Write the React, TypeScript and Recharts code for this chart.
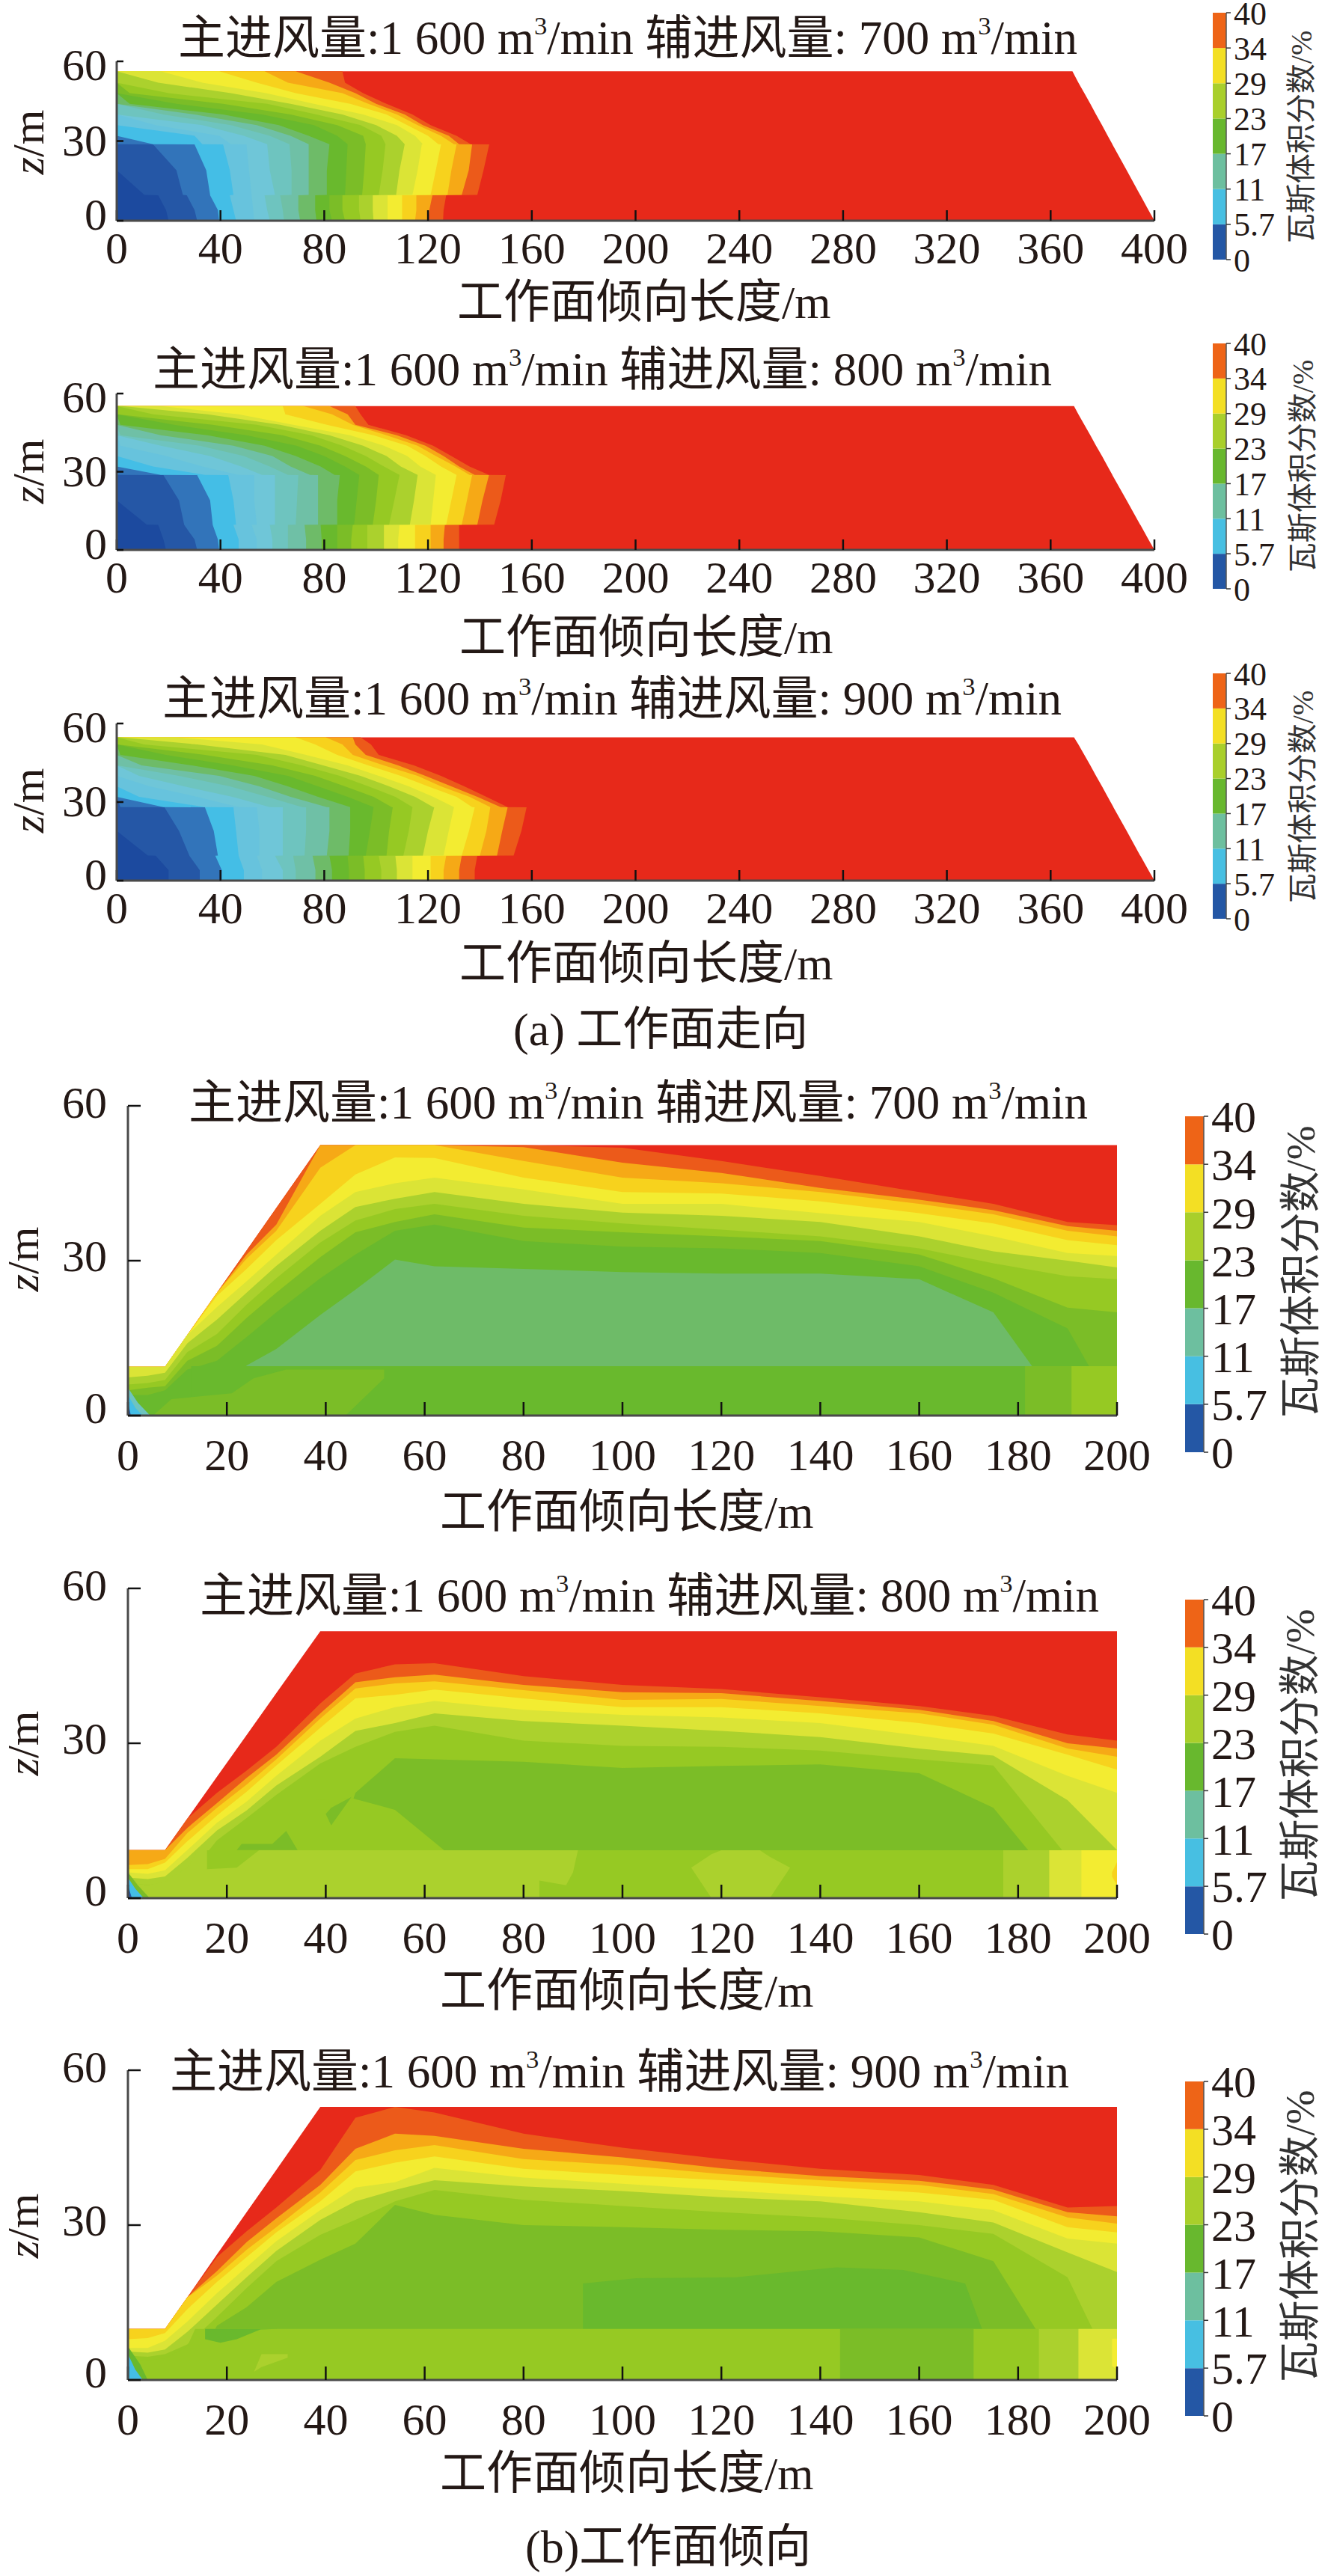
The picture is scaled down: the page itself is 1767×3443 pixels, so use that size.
import { Area, Bar, BarChart, ComposedChart, XAxis, YAxis } from 'recharts';

const FONT = '"Liberation Serif", "Noto Sans CJK SC", serif';
const INK = '#231815';

// contour bands, lowest first, the last one sits just under the red background
const bandColors = [
  '#1c4a9f', '#2557a6', '#3274ba', '#44bee6', '#67c3dd', '#6fc6d8', '#6ec4bf', '#6fc0a6', '#6ebb68',
  '#69b92d', '#7bbd27', '#96c923', '#abd12d', '#dbe436', '#f3ec31', '#f7d21d', '#f6a916', '#ec5a1a',
];
const RED = '#e7291a';

const barLabels = ['0', '5.7', '11', '17', '23', '29', '34', '40'];
const barColors = ['#2457a5', '#47bfe2', '#6dbf9f', '#68b82e', '#a9cf2b', '#f3df24', '#ee6417'];

const xTicksA = [0, 40, 80, 120, 160, 200, 240, 280, 320, 360, 400];
const xTicksB = [0, 20, 40, 60, 80, 100, 120, 140, 160, 180, 200];
const zTicks = [0, 30, 60];

// (a) strike panels: x of each contour, read at these heights
const zRowsA1 = [0, 4, 9.6, 9.7, 19, 28.7, 28.8, 32, 36, 40, 44, 48, 52, 56.3];
const edgeA1 = [400, 397.7, 394.6, 394.5, 389.3, 383.8, 383.8, 382, 379.8, 377.5, 375.3, 373, 370.7, 368.4];
const contoursA1 = [
  [20, 19, 16, 10.7, 0, 0, 0, 0, 0, 0, 0, 0, 0, 0],
  [31, 30, 27, 25.5, 23, 14, 0, 0, 0, 0, 0, 0, 0, 0],
  [39.5, 39, 36, 36, 34.5, 30, 14, 0, 0, 0, 0, 0, 0, 0],
  [46, 45, 43.6, 45, 43.6, 41, 33, 30, 0, 0, 0, 0, 0, 0],
  [53, 52.6, 52, 52, 51, 50, 44, 39.5, 15, 0, 0, 0, 0, 0],
  [59, 58, 57, 61, 59, 58, 58, 49, 33, 0, 0, 0, 0, 0],
  [64.5, 64, 63, 67.4, 67.4, 66.6, 66.6, 59, 44, 18, 0, 0, 0, 0],
  [70.7, 70, 70, 74, 74, 74, 74, 67, 54, 30, 0, 0, 0, 0],
  [77, 76.5, 76.5, 81, 81, 82, 82, 74, 62.5, 41, 5, 0, 0, 0],
  [83, 82, 82, 88, 88.5, 89, 89, 85, 76, 56, 23, 0, 0, 0],
  [88, 87, 87, 94.6, 95.4, 96, 96, 95, 85, 67, 41, 5, 0, 0],
  [94, 93.4, 93.4, 101, 102.5, 103.6, 103.6, 102, 94, 77, 58, 20, 0, 0],
  [99, 98.7, 98.7, 107.7, 109, 111, 111, 108, 100, 87, 67, 44, 16, 0],
  [104.4, 104.4, 104.4, 114, 116, 117.6, 118, 115, 108, 95, 76, 57.6, 33, 17],
  [110, 110, 110, 121, 123, 125, 124, 120, 112, 104, 90, 69, 54, 39.5],
  [115, 115.5, 115.5, 127.5, 129, 131, 130, 125, 116, 108, 97, 87, 66, 57],
  [120, 120.5, 121.7, 133, 135.7, 137, 132, 128, 118, 111, 100, 92, 82, 69],
  [125.8, 126, 127, 139, 141.4, 143.6, 136.5, 131, 121, 114, 104, 95, 88, 87],
];

const zRowsA2 = [0, 4, 9.6, 9.7, 19, 28.7, 28.8, 32, 36, 40, 44, 48, 52, 55.2];
const edgeA2 = [400, 397.7, 394.6, 394.5, 389.3, 383.8, 383.8, 382, 379.8, 377.5, 375.3, 373, 370.7, 369];
const contoursA2 = [
  [19, 18, 16, 11.6, 0, 0, 0, 0, 0, 0, 0, 0, 0, 0],
  [31, 30, 26, 26, 24, 18, 0, 0, 0, 0, 0, 0, 0, 0],
  [39.5, 39, 37, 37, 36, 31, 17, 0, 0, 0, 0, 0, 0, 0],
  [47, 47, 45, 46, 45, 43, 34, 14, 0, 0, 0, 0, 0, 0],
  [54, 54, 52, 54, 53, 53, 47, 33, 19, 1.4, 0, 0, 0, 0],
  [60, 60, 59, 61, 61, 61, 56, 48, 36, 17, 0, 0, 0, 0],
  [66, 66, 66, 69, 69.5, 70, 66, 59, 49, 32, 1.4, 0, 0, 0],
  [73, 73, 72.4, 77.6, 77.6, 77.6, 74.5, 67, 60, 45, 17, 0, 0, 0],
  [79, 79, 78.6, 85, 85, 86, 84, 78.6, 69, 57, 35, 1.4, 0, 0],
  [85, 85, 85, 91.5, 92.5, 93.5, 93.5, 88, 80, 69.3, 50, 22, 0, 0],
  [90.4, 90.4, 91, 98.7, 100, 101, 101, 96, 88, 78.6, 64, 37, 0.3, 0],
  [96.6, 96.6, 96.6, 105, 107, 109, 109, 103, 96, 87, 75, 54, 14, 0],
  [103, 103, 103, 113, 114.6, 116, 116, 109.5, 104, 95, 82, 63, 35, 2],
  [108.5, 108.5, 109, 121, 122, 123, 123, 117, 112, 103, 90, 68, 47, 17],
  [115, 115, 115, 127, 129, 131, 131, 125, 119, 112, 99, 81, 65, 64],
  [121, 121, 121, 133, 135, 137, 136, 130.6, 123, 116, 104, 91, 83, 72],
  [126, 126, 126.5, 139, 141, 143.5, 138, 132, 126, 119, 108, 92, 89, 82],
  [132, 132, 132, 145.5, 148, 150, 143.5, 136, 129, 122, 111.6, 97, 94, 92],
];

const zRowsA3 = [0, 4, 9.5, 9.6, 19, 28, 28.1, 32, 36, 40, 44, 48, 52, 54.7];
const edgeA3 = [400, 397.7, 394.6, 394.5, 389.3, 384.2, 384.2, 382, 379.8, 377.5, 375.3, 373, 370.7, 369];
const contoursA3 = [
  [20, 20, 15, 12, 0, 0, 0, 0, 0, 0, 0, 0, 0, 0],
  [32, 32, 28, 28, 24, 18.4, 1.4, 0, 0, 0, 0, 0, 0, 0],
  [40.5, 40.5, 38, 39, 37.4, 34, 18, 0, 0, 0, 0, 0, 0, 0],
  [49, 49, 47, 47, 46, 45, 34, 8.6, 0, 0, 0, 0, 0, 0],
  [56, 56, 54, 55, 55, 54, 47, 31, 12.7, 0, 0, 0, 0, 0],
  [64, 64, 61, 64, 64, 64, 59, 44.6, 26, 8.6, 0, 0, 0, 0],
  [69, 69, 68, 72.4, 73, 73, 71.4, 58, 43.6, 24, 0.3, 0, 0, 0],
  [76.6, 76.6, 75.5, 81, 82, 82, 81, 67, 55, 39.5, 9.6, 0, 0, 0],
  [83, 83, 82, 89.4, 90, 90, 90, 77.6, 66, 53, 29, 1.4, 0, 0],
  [89.5, 89.5, 89, 96, 97.6, 99, 99, 89, 77.6, 66, 44.6, 19, 0, 0],
  [95.6, 95.6, 95, 104, 105, 106.4, 106, 99, 88, 76.5, 60, 34, 0.3, 0],
  [102, 102, 101, 110.5, 112.6, 114, 114, 107.4, 97, 86, 71.4, 54, 10.6, 0],
  [108, 108, 107.4, 118, 120, 122.4, 122, 115, 105, 94, 79.6, 65, 31, 1.4],
  [114, 114, 114, 126, 128, 130, 130, 122, 112.6, 101, 89, 73, 56, 23],
  [121, 121, 121, 133, 135.8, 138, 137, 131, 120, 109.5, 97, 85, 76.5, 69],
  [126, 126, 127, 140, 142.5, 144, 144, 136, 125, 116, 103, 91, 87, 80.6],
  [132, 132, 133, 146.6, 148.6, 150.7, 148, 139, 129, 119, 108.5, 96, 92, 91],
  [138, 138, 139, 153, 156, 158, 150.7, 142.5, 134, 125, 114.6, 101, 98, 94],
];

// (b) dip panels: z of each contour, read at these x positions
const xColsB = [0, 4, 7.5, 12, 18, 24, 30, 38.9, 46, 54, 62, 80, 100, 120, 140, 160, 175, 190, 200];

const edgeB1 = [9.45, 9.45, 9.45, 15.6, 23.8, 32, 40.2, 52.4, 52.4, 52.4, 52.4, 52.4, 52.4, 52.4, 52.4, 52.4, 52.4, 52.4, 52.4];
const levelsB1 = [17, 16, 15, 14, 13, 12, 11, 10, 9, 8];
const contoursB1 = [
  [9.45, 9.45, 9.45, 15.6, 23.8, 32, 40.2, 52.4, 52.4, 52.4, 52.4, 52.4, 51.9, 49.3, 46.4, 43.3, 41, 37.5, 36.9],
  [9.45, 9.45, 9.45, 15.6, 23.8, 31.2, 37, 52.4, 52.4, 52.4, 52.4, 52, 49, 47, 44.1, 41.8, 39.8, 36.7, 35.8],
  [9.45, 9.45, 9.45, 15.6, 23.8, 30.4, 35.8, 48, 52.4, 52.4, 52.4, 49.3, 46.1, 45, 43.3, 41, 39, 35.8, 34.7],
  [9.45, 9.45, 9.45, 15.6, 23.2, 28.4, 34, 41, 46.7, 50, 49.9, 46.1, 43.3, 43, 41.5, 39.2, 37.2, 34, 33],
  [9.45, 9.45, 9.45, 15.6, 21, 26, 31.2, 38.7, 43.3, 45, 46.1, 43.8, 41, 41, 39.2, 37.5, 34.7, 31.5, 30.9],
  [7.4, 7.7, 8.3, 14, 18.6, 23.8, 29, 35.8, 40.4, 42, 43.3, 41, 39.3, 38.7, 37.5, 34.7, 31.8, 30, 28.7],
  [6, 6.3, 6.9, 12.3, 15.8, 21.5, 26.6, 33.5, 37.8, 40, 41, 38.7, 37.2, 36, 34.7, 32.4, 29.5, 27, 26.4],
  [4.9, 5.4, 5.7, 10.6, 13.5, 18.9, 23.8, 30.7, 35.5, 37.5, 39, 36.4, 35.5, 34.7, 33.8, 31.2, 26.6, 20.9, 20],
  [4, 4, 4.9, 8.9, 10.6, 15.2, 20, 26.6, 31.2, 35.8, 37, 33.8, 32.7, 32.4, 31.5, 28.9, 23.8, 16.9, 0],
  [0, 0, 0, 0, 0, 9.7, 12.9, 19.5, 24.4, 30.2, 28.9, 28.4, 27.8, 27.5, 27.5, 26.4, 20, 0, 0],
];
const patchesB1 = [
  { level: 9, xs: [12.8, 200], lo: [0, 0], hi: [9.57, 9.57] },
  { level: 10, xs: [5.4, 8.8, 21, 25.4, 32, 44, 51.8], lo: [0, 0, 0, 0, 0, 0, 7.2], hi: [0.3, 3.2, 4.3, 7.2, 8.9, 8.9, 8.9] },
  { level: 10, xs: [181.4, 200], lo: [0, 0], hi: [9.57, 9.57] },
  { level: 11, xs: [190.8, 200], lo: [0, 0], hi: [9.57, 9.57] },
  { level: 6, xs: [0, 2, 4.5], lo: [0, 0, 0], hi: [5.4, 2.5, 0] },
  { level: 3, xs: [0, 1.5, 3], lo: [0, 0, 0], hi: [4, 1.5, 0] },
  { level: 1, xs: [0, 0.6], lo: [0, 0], hi: [2.5, 0] },
];

const edgeB2 = [9.3, 9.3, 9.3, 15.4, 23.5, 31.6, 39.7, 51.7, 51.7, 51.7, 51.7, 51.7, 51.7, 51.7, 51.7, 51.7, 51.7, 51.7, 51.7];
const levelsB2 = [17, 16, 15, 14, 13, 12, 11, 10];
const contoursB2 = [
  [9.3, 9.3, 9.3, 15.4, 20.4, 24.7, 29.3, 37.7, 43.5, 45.3, 45.5, 43, 41.3, 40.5, 38.9, 37.2, 35.3, 31.7, 30.5],
  [9.3, 9.3, 9.3, 13.6, 18.4, 23.3, 27.8, 35.8, 41.8, 42.8, 43.3, 41.3, 39.9, 39.7, 38.2, 36.5, 34.3, 30, 29],
  [6.4, 6.6, 7.6, 12.6, 17.5, 22, 26.9, 34.8, 40.6, 41.6, 42, 40.3, 38.4, 38.6, 37.2, 35.8, 33.6, 29, 27.4],
  [5.6, 5.6, 6.9, 11, 16, 20.6, 25.7, 33, 38.7, 39.4, 40.4, 38.7, 37, 37, 35.8, 33.9, 31.9, 27.8, 24.9],
  [5, 4.7, 5.4, 9.3, 14.6, 18.7, 23.7, 30.5, 34.8, 37, 38.2, 36.5, 35.5, 35, 33.9, 31.5, 29.5, 23.7, 20.4],
  [4, 3.7, 4.2, 7.8, 13.1, 17, 21.8, 27.4, 32.4, 33.9, 35.8, 34.3, 33.4, 32.4, 31.2, 29, 27.6, 19, 9.3],
  [3, 2.5, 3, 4, 11.2, 15.5, 20, 26.1, 29.3, 32.2, 33.4, 30.5, 29.5, 29.3, 28.6, 26.9, 25.7, 8, 8],
  [0, 0, 0, 0, 0, 0, 0, 0, 20.4, 27.1, 26.9, 26.4, 25.2, 25.6, 25.9, 24.2, 17.5, 0, 0],
];
const patchesB2 = [
  { level: 11, xs: [38, 45.2, 54, 63.9], lo: [9.2, 9.2, 9.2, 9.2], hi: [19, 19.4, 17.1, 9.3] },
  { level: 10, xs: [22, 23, 29.2, 32, 34.3], lo: [9.3, 9.3, 9.3, 9.3, 9.3], hi: [9.3, 10.5, 10.5, 13, 9.3] },
  { level: 10, xs: [40, 41.1, 45.2], lo: [16.3, 14.1, 19.6], hi: [16.3, 17.5, 19.6] },
  { level: 12, xs: [0, 4, 7.5, 12, 14.2, 200], lo: [0, 0, 0, 0, 0, 0], hi: [3, 2.5, 3.2, 5.9, 9.26, 9.26] },
  { level: 11, xs: [16, 22, 26.5], lo: [5.6, 5.9, 9.26], hi: [9.26, 9.26, 9.26] },
  { level: 11, xs: [83.2, 88.6, 90, 91, 200], lo: [0, 0, 0, 0, 0], hi: [3.4, 2.5, 5, 9.26, 9.26] },
  { level: 12, xs: [113.9, 118, 120, 127.8, 129.8, 133.9], lo: [5.9, 0, 0, 0, 0, 5.9], hi: [5.9, 8.5, 9.26, 9.26, 8, 5.9] },
  { level: 12, xs: [177, 200], lo: [0, 0], hi: [9.26, 9.26] },
  { level: 13, xs: [186.3, 200], lo: [0, 0], hi: [9.26, 9.26] },
  { level: 14, xs: [192.8, 200], lo: [0, 0], hi: [9.26, 9.26] },
  { level: 15, xs: [199, 200], lo: [4.2, 2.5], hi: [5, 7] },
  { level: 10, xs: [0, 2, 4.4], lo: [0, 0, 0], hi: [5, 2.5, 0] },
  { level: 3, xs: [0, 1.5, 3.2], lo: [0, 0, 0], hi: [4, 1.8, 0] },
  { level: 1, xs: [0, 0.8], lo: [0, 0], hi: [2.5, 0] },
];

const edgeB3 = [9.9, 9.9, 9.9, 16, 24.3, 32.5, 40.7, 52.9, 52.9, 52.9, 52.9, 52.9, 52.9, 52.9, 52.9, 52.9, 52.9, 52.9, 52.9];
const levelsB3 = [17, 16, 15, 14, 13, 12, 11, 10];
const contoursB3 = [
  [9.9, 9.9, 9.9, 16, 23.8, 28.8, 33.4, 40.7, 50.8, 52.9, 51.8, 47.7, 45, 42.8, 40.9, 39.7, 37.8, 33.4, 33.7],
  [9.9, 9.9, 9.9, 16, 21.1, 26.7, 31.3, 37.8, 44.8, 47.7, 47.3, 44.8, 43.1, 41, 39.5, 38.6, 36.9, 32.5, 31.7],
  [9.9, 9.9, 9.9, 16, 20.2, 25.2, 29.6, 36.3, 42.6, 44.5, 45.5, 42.8, 41.6, 39.9, 38.7, 37.8, 36, 31.5, 30.3],
  [7.9, 8.1, 9.1, 13.7, 19, 23.8, 28.6, 34.6, 40.4, 42.1, 43.3, 40.9, 39.7, 38.7, 37.5, 36.3, 34.9, 29.6, 28.6],
  [6.2, 6.2, 7.6, 11.3, 16.8, 21.9, 26.9, 32.9, 37.3, 38.3, 41.1, 39.2, 38, 36.8, 35.6, 34.6, 32.9, 27.4, 26.4],
  [5.5, 5.3, 5.9, 9.3, 14.6, 19.9, 25, 31, 34.6, 36.8, 38.7, 37.5, 36.6, 35.4, 34.6, 32.5, 30.5, 24.7, 20.9],
  [4.7, 4.5, 5, 6.9, 12.2, 17.8, 23, 28.1, 31, 34.6, 36.8, 34.9, 33.7, 32.5, 31.5, 30, 28.3, 19.9, 0],
  [0, 0, 0, 0, 10.5, 14.1, 19, 23.3, 26.4, 33.9, 32, 30, 29.6, 29.1, 28.8, 27.6, 23, 0, 0],
];
const patchesB3 = [
  { level: 9, xs: [92, 102.8, 123, 143.3, 156.8, 169.3, 172.7], lo: [9, 9, 9, 9, 9, 9, 9], hi: [18.7, 19.7, 19.9, 21.8, 21.3, 18.7, 9.9] },
  { level: 11, xs: [0, 4, 7.5, 12, 13.6, 200], lo: [0, 0, 0, 0, 0, 0], hi: [4, 3.8, 4.2, 6.5, 9.9, 9.9] },
  { level: 9, xs: [15.6, 18.7, 22, 26.8, 30.2], lo: [7.9, 7.2, 7.9, 9.8, 9.9], hi: [9.9, 9.9, 9.9, 9.9, 9.9] },
  { level: 12, xs: [25.5, 27, 32.3], lo: [1.6, 2.5, 4.3], hi: [1.6, 5, 5] },
  { level: 10, xs: [144, 146, 170, 171], lo: [0, 0, 0, 0], hi: [9.9, 9.9, 9.9, 9.9] },
  { level: 12, xs: [184.2, 200], lo: [0, 0], hi: [9.9, 9.9] },
  { level: 13, xs: [192.2, 200], lo: [0, 0], hi: [9.9, 9.9] },
  { level: 14, xs: [199, 200], lo: [2.7, 2], hi: [8, 8] },
  { level: 9, xs: [0, 2.5, 4], lo: [0, 0, 0], hi: [6.5, 3, 0] },
  { level: 3, xs: [0, 1.5, 3], lo: [0, 0, 0], hi: [5, 2, 0] },
];

// the z labels sit a little off their ticks in the original
const zLabelShiftA: Record<number, number> = { 0: -8, 30: -1, 60: 5 };
const zLabelShiftB: Record<number, number> = { 0: -10, 30: -6, 60: -4 };

const tickText = { fontFamily: FONT, fontSize: 60, fill: INK };
const axisStroke = { stroke: '#4a4a4a', strokeWidth: 3 };
const tickStroke = { stroke: '#111', strokeWidth: 2.5 };
const TOP_PAD = 40;

function band(data: object[], key: string, fill: string, id: string) {
  return (
    <Area
      key={id}
      data={data}
      dataKey={key}
      type="linear"
      fill={fill}
      fillOpacity={1}
      stroke="none"
      dot={false}
      activeDot={false}
      isAnimationActive={false}
    />
  );
}

function zTick(shift: Record<number, number>) {
  return ({ x, y, payload }: any) => (
    <text x={x} y={y + shift[payload.value]} dy="0.34em" textAnchor="end" {...tickText}>
      {payload.value}
    </text>
  );
}

function StrikePanel({ y60, y0, rows, edge, contours }: any) {
  const plotH = y0 - y60;
  const toRows = (vals: number[]) => rows.map((z: number, i: number) => ({ z, x: vals[i] }));
  const painted = contours.map((vals: number[], level: number) => ({ vals, level })).reverse();
  const size = { width: 1620, height: plotH + 80 + TOP_PAD };
  const margin = { top: TOP_PAD, right: 77, bottom: 0, left: 0 };
  const frame = { position: 'absolute', left: 0, top: y60 - TOP_PAD } as const;
  return (
    <>
      <div style={frame}>
        <ComposedChart layout="vertical" {...size} margin={margin}>
          {band(toRows(edge), 'x', RED, 'edge')}
          {painted.map((c: any) => band(toRows(c.vals), 'x', bandColors[c.level], `c${c.level}`))}
          <XAxis type="number" domain={[0, 400]} height={80} tick={false} tickLine={false} axisLine={false} />
          <YAxis type="number" dataKey="z" domain={[0, 60]} width={156} tick={false} tickLine={false} axisLine={false} reversed />
        </ComposedChart>
      </div>
      {/* axes go in a second chart on top, the ticks point into the coloured field */}
      <div style={frame}>
        <ComposedChart layout="vertical" {...size} margin={margin}>
          {band([{ z: 0, x: 0 }, { z: 60, x: 0 }], 'x', 'none', 'ghost')}
          <XAxis
            type="number"
            domain={[0, 400]}
            ticks={xTicksA}
            interval={0}
            height={80}
            tick={tickText}
            tickSize={-14}
            tickMargin={28}
            axisLine={axisStroke}
            tickLine={tickStroke}
          />
          <YAxis
            type="number"
            dataKey="z"
            domain={[0, 60]}
            ticks={zTicks}
            interval={0}
            width={156}
            tick={zTick(zLabelShiftA)}
            tickSize={-9}
            tickMargin={22}
            axisLine={axisStroke}
            tickLine={tickStroke}
            reversed
          />
        </ComposedChart>
      </div>
    </>
  );
}

function DipPanel({ y60, y0, edge, levels, contours, patches }: any) {
  const plotH = y0 - y60;
  const toCols = (vals: number[]) => xColsB.map((x, i) => ({ x, z: vals[i] }));
  const size = { width: 1560, height: plotH + 100 + TOP_PAD };
  const margin = { top: TOP_PAD, right: 67, bottom: 0, left: 0 };
  const frame = { position: 'absolute', left: 0, top: y60 - TOP_PAD } as const;
  return (
    <>
      <div style={frame}>
        <ComposedChart {...size} margin={margin}>
          {band(toCols(edge), 'z', RED, 'edge')}
          {contours.map((vals: number[], i: number) => band(toCols(vals), 'z', bandColors[levels[i]], `c${i}`))}
          {patches.map((p: any, i: number) =>
            band(
              p.xs.map((x: number, k: number) => ({ x, range: [p.lo[k], p.hi[k]] })),
              'range',
              bandColors[p.level],
              `p${i}`,
            ),
          )}
          <XAxis type="number" dataKey="x" domain={[0, 200]} height={100} tick={false} tickLine={false} axisLine={false} />
          <YAxis type="number" domain={[0, 60]} width={171} tick={false} tickLine={false} axisLine={false} />
        </ComposedChart>
      </div>
      <div style={frame}>
        <ComposedChart {...size} margin={margin}>
          {band([{ x: 0, z: 0 }, { x: 200, z: 0 }], 'z', 'none', 'ghost')}
          <XAxis
            type="number"
            dataKey="x"
            domain={[0, 200]}
            ticks={xTicksB}
            interval={0}
            height={100}
            tick={tickText}
            tickSize={-18}
            tickMargin={48}
            axisLine={axisStroke}
            tickLine={tickStroke}
          />
          <YAxis
            type="number"
            domain={[0, 60]}
            ticks={zTicks}
            interval={0}
            width={171}
            tick={zTick(zLabelShiftB)}
            tickSize={-17}
            tickMargin={45}
            axisLine={axisStroke}
            tickLine={tickStroke}
          />
        </ComposedChart>
      </div>
    </>
  );
}

function ColorBar({ left, top, width, height, fontSize, tickMargin, titleX, titleTop, titleBottom, titleSize }: any) {
  const row = Object.fromEntries(barColors.map((_, i) => [`b${i}`, 1]));
  return (
    <>
      <div style={{ position: 'absolute', left, top: top - 40 }}>
        <BarChart
          width={width + 130}
          height={height + 80}
          data={[row]}
          margin={{ top: 40, right: 0, bottom: 40, left: 0 }}
          barCategoryGap={0}
        >
          {barColors.map((c, i) => (
            <Bar key={c} dataKey={`b${i}`} stackId="bar" fill={c} isAnimationActive={false} />
          ))}
          <XAxis hide />
          <YAxis
            orientation="right"
            type="number"
            domain={[0, 7]}
            ticks={[0, 1, 2, 3, 4, 5, 6, 7]}
            interval={0}
            width={130}
            tickFormatter={(v: number) => barLabels[v]}
            tick={{ fontFamily: FONT, fontSize, fill: INK }}
            tickSize={6}
            tickMargin={tickMargin}
            axisLine={{ stroke: '#555', strokeWidth: 1.5 }}
            tickLine={{ stroke: '#333', strokeWidth: 1.5 }}
          />
        </BarChart>
      </div>
      <div
        style={{
          position: 'absolute',
          left: titleX,
          top: (titleTop + titleBottom) / 2,
          transform: 'translate(-50%, -50%) rotate(-90deg)',
          fontFamily: FONT,
          fontSize: titleSize,
          lineHeight: 1,
          color: '#333',
          whiteSpace: 'nowrap',
        }}
      >
        瓦斯体积分数/%
      </div>
    </>
  );
}

// baseline positioned text, line-height 1 puts the Liberation baseline at .8375em
function Caption({ x, y, size = 62, children }: any) {
  return (
    <div
      style={{
        position: 'absolute',
        left: x,
        top: y - size * 0.8375,
        fontFamily: FONT,
        fontSize: size,
        lineHeight: 1,
        color: INK,
        whiteSpace: 'nowrap',
      }}
    >
      {children}
    </div>
  );
}

const Cube = () => (
  <span style={{ fontSize: '0.55em', position: 'relative', top: '-0.75em' }}>3</span>
);

function Title({ x, y, aux }: any) {
  return (
    <Caption x={x} y={y} size={63}>
      主进风量:1 600 m<Cube />/min 辅进风量: {aux} m<Cube />/min
    </Caption>
  );
}

function ZLabel({ x, y }: any) {
  return (
    <div
      style={{
        position: 'absolute',
        left: x,
        top: y,
        transform: 'translate(-50%, -50%) rotate(-90deg)',
        fontFamily: FONT,
        fontSize: 60,
        lineHeight: 1,
        color: INK,
        whiteSpace: 'nowrap',
      }}
    >
      <i>z</i>/m
    </div>
  );
}

export default function App() {
  return (
    <div style={{ position: 'absolute', left: 0, top: 0, width: 1767, height: 3443, overflow: 'hidden', background: '#fff' }}>
      <StrikePanel y60={82} y0={295} rows={zRowsA1} edge={edgeA1} contours={contoursA1} />
      <StrikePanel y60={526} y0={735} rows={zRowsA2} edge={edgeA2} contours={contoursA2} />
      <StrikePanel y60={967} y0={1177} rows={zRowsA3} edge={edgeA3} contours={contoursA3} />
      <DipPanel y60={1478} y0={1892} edge={edgeB1} levels={levelsB1} contours={contoursB1} patches={patchesB1} />
      <DipPanel y60={2123} y0={2537} edge={edgeB2} levels={levelsB2} contours={contoursB2} patches={patchesB2} />
      <DipPanel y60={2767} y0={3181} edge={edgeB3} levels={levelsB3} contours={contoursB3} patches={patchesB3} />

      <Title x={238} y={73} aux={700} />
      <Title x={204} y={516} aux={800} />
      <Title x={217} y={956} aux={900} />
      <Title x={252} y={1496} aux={700} />
      <Title x={267} y={2155} aux={800} />
      <Title x={227} y={2791} aux={900} />

      <Caption x={611} y={425}>工作面倾向长度/m</Caption>
      <Caption x={614} y={873}>工作面倾向长度/m</Caption>
      <Caption x={614} y={1309}>工作面倾向长度/m</Caption>
      <Caption x={588} y={2042}>工作面倾向长度/m</Caption>
      <Caption x={588} y={2682}>工作面倾向长度/m</Caption>
      <Caption x={588} y={3327}>工作面倾向长度/m</Caption>
      <Caption x={686} y={1397}>(a) 工作面走向</Caption>
      <Caption x={702} y={3425}>(b)工作面倾向</Caption>

      <ZLabel x={38} y={190} />
      <ZLabel x={38} y={630} />
      <ZLabel x={38} y={1070} />
      <ZLabel x={31} y={1683} />
      <ZLabel x={31} y={2330} />
      <ZLabel x={31} y={2975} />

      <ColorBar left={1621} top={17} width={18} height={330} fontSize={44} tickMargin={4} titleX={1740} titleTop={40} titleBottom={325} titleSize={40} />
      <ColorBar left={1621} top={459} width={18} height={328} fontSize={44} tickMargin={4} titleX={1742} titleTop={481} titleBottom={764} titleSize={40} />
      <ColorBar left={1621} top={900} width={18} height={328} fontSize={44} tickMargin={4} titleX={1742} titleTop={922} titleBottom={1208} titleSize={40} />
      <ColorBar left={1584} top={1492} width={25} height={449} fontSize={60} tickMargin={4} titleX={1738} titleTop={1503} titleBottom={1896} titleSize={55} />
      <ColorBar left={1584} top={2138} width={25} height={447} fontSize={60} tickMargin={4} titleX={1737} titleTop={2152} titleBottom={2540} titleSize={55} />
      <ColorBar left={1584} top={2782} width={25} height={447} fontSize={60} tickMargin={4} titleX={1737} titleTop={2795} titleBottom={3183} titleSize={55} />
    </div>
  );
}
